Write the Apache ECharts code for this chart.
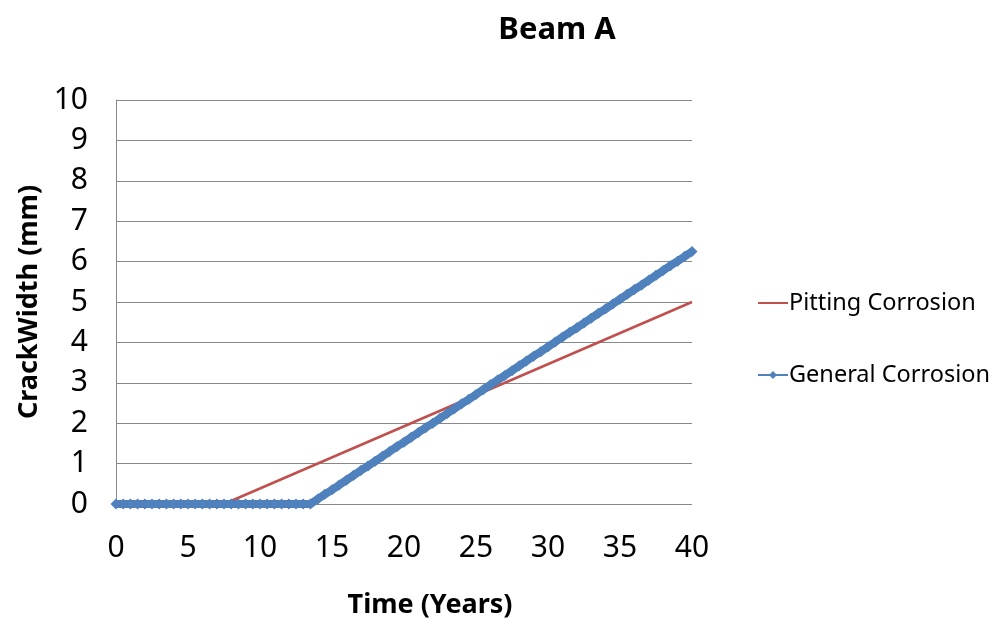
<!DOCTYPE html>
<html>
<head>
<meta charset="utf-8">
<script src="https://cdn.jsdelivr.net/npm/echarts@6/dist/echarts.min.js"></script>
<style>
  html, body { margin: 0; padding: 0; background: #fff; }
  #chart { width: 1001px; height: 619px; }
</style>
</head>
<body>
<div id="chart"></div>
<script>
// Beam A — crack width over time
var pittingTime = [0, 7.5, 40];
var pittingWidth = [0, 0, 5];

var generalTime = [
  0, 0.5, 1, 1.5, 2, 2.5, 3, 3.5, 4, 4.5, 5, 5.5, 6, 6.5, 7, 7.5, 8, 8.5, 9, 9.5,
  10, 10.5, 11, 11.5, 12, 12.5, 13, 13.5, 14, 14.5, 15, 15.5, 16, 16.5, 17, 17.5, 18, 18.5, 19, 19.5,
  20, 20.5, 21, 21.5, 22, 22.5, 23, 23.5, 24, 24.5, 25, 25.5, 26, 26.5, 27, 27.5, 28, 28.5, 29, 29.5,
  30, 30.5, 31, 31.5, 32, 32.5, 33, 33.5, 34, 34.5, 35, 35.5, 36, 36.5, 37, 37.5, 38, 38.5, 39, 39.5, 40
];
var generalWidth = [
  0, 0, 0, 0, 0, 0, 0, 0, 0, 0, 0, 0, 0, 0, 0, 0, 0, 0, 0, 0,
  0, 0, 0, 0, 0, 0, 0, 0, 0.12, 0.24, 0.35, 0.47, 0.59, 0.71, 0.83, 0.94, 1.06, 1.18, 1.30, 1.42,
  1.53, 1.65, 1.77, 1.89, 2.00, 2.12, 2.24, 2.36, 2.48, 2.59, 2.71, 2.83, 2.95, 3.07, 3.18, 3.30, 3.42, 3.54, 3.66, 3.77,
  3.89, 4.01, 4.13, 4.25, 4.36, 4.48, 4.60, 4.72, 4.83, 4.95, 5.07, 5.19, 5.31, 5.42, 5.54, 5.66, 5.78, 5.90, 6.01, 6.13, 6.25
];

var font = 'Noto Sans';
var grey = '#888888';

function pairs(xs, ys) {
  return xs.map(function (x, i) { return [x, ys[i]]; });
}

var chart = echarts.init(document.getElementById('chart'), null, { renderer: 'canvas' });
chart.setOption({
  animation: false,
  textStyle: { fontFamily: font },
  title: {
    text: 'Beam A',
    left: 552,
    top: 10,
    textAlign: 'center',
    textStyle: { fontFamily: font, fontSize: 31, fontWeight: 'bold', color: '#000' }
  },
  legend: {
    orient: 'vertical',
    left: 752,
    top: 286,
    itemGap: 48,
    itemWidth: 30,
    itemHeight: 10,
    textStyle: { fontFamily: font, fontSize: 23.5, color: '#000', padding: [0, 0, 0, -4] },
    data: [
      { name: 'Pitting Corrosion', icon: 'path://M0,4 L30,4 L30,6 L0,6 Z' },
      { name: 'General Corrosion' }
    ]
  },
  grid: { left: 116, right: 309, top: 100, bottom: 115, outerBoundsMode: 'none' },
  xAxis: {
    type: 'value',
    min: 0,
    max: 40,
    interval: 5,
    name: 'Time (Years)',
    nameLocation: 'middle',
    nameGap: 88,
    nameTextStyle: { fontFamily: font, fontSize: 27, fontWeight: 'bold', color: '#000', padding: [0, 0, 0, 52] },
    axisLine: { show: false },
    axisTick: { show: false },
    axisLabel: { fontFamily: font, fontSize: 30, color: '#000', margin: 29 },
    splitLine: { show: false }
  },
  yAxis: {
    type: 'value',
    min: 0,
    max: 10,
    interval: 1,
    name: 'CrackWidth (mm)',
    nameLocation: 'middle',
    nameGap: 73,
    nameTextStyle: { fontFamily: font, fontSize: 27, fontWeight: 'bold', color: '#000' },
    axisLine: { show: true, lineStyle: { color: grey, width: 1 } },
    axisTick: { show: false },
    axisLabel: { fontFamily: font, fontSize: 30, color: '#000', margin: 28 },
    splitLine: { show: true, lineStyle: { color: grey, width: 1 } }
  },
  series: [
    {
      name: 'Pitting Corrosion',
      type: 'line',
      data: pairs(pittingTime, pittingWidth),
      showSymbol: false,
      symbol: 'none',
      lineStyle: { color: '#C0504D', width: 2.5 },
      itemStyle: { color: '#C0504D' },
      z: 2
    },
    {
      name: 'General Corrosion',
      type: 'line',
      data: pairs(generalTime, generalWidth),
      symbol: 'diamond',
      symbolSize: 11,
      showAllSymbol: true,
      lineStyle: { color: '#4F81BD', width: 8 },
      itemStyle: { color: '#4F81BD' },
      z: 3
    }
  ]
});
</script>
</body>
</html>
